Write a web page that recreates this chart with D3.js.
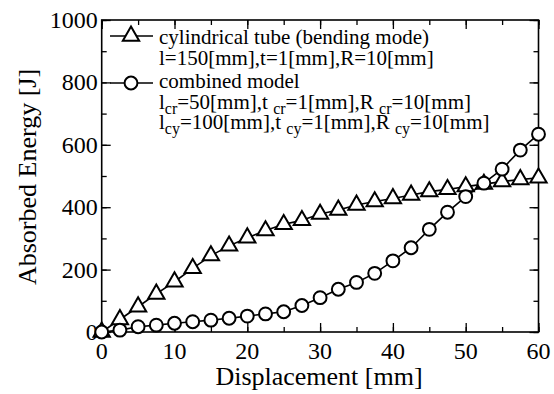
<!DOCTYPE html>
<html>
<head>
<meta charset="utf-8">
<script src="https://cdn.jsdelivr.net/npm/d3@7"></script>
<style>
  body { margin: 0; background: #fff; }
</style>
</head>
<body>
<div id="plot"></div>
<script>
// displacement [mm]
var disp = [0, 2.5, 5, 7.5, 10, 12.5, 15, 17.5, 20, 22.5, 25, 27.5, 30,
            32.5, 35, 37.5, 40, 42.5, 45, 47.5, 50, 52.5, 55, 57.5, 60];
// cylindrical tube (bending mode)
var tubeEnergy = [0, 40, 81, 122, 161, 204, 245, 276, 302, 325, 345, 358, 378,
                  391, 407, 418, 428, 439, 450, 457, 466, 474, 482, 489, 494];
// combined model
var combEnergy = [0, 6, 17, 22, 28, 33, 38, 44, 51, 58, 65, 85, 110,
                  137, 159, 188, 228, 270, 329, 384, 434, 477, 522, 583, 634];

var xTicks = [0, 10, 20, 30, 40, 50, 60];
var yTicks = [0, 200, 400, 600, 800, 1000];

var FONT = "Liberation Serif";
var W = 554, H = 394;
var margin = {top: 20, right: 15.5, bottom: 62, left: 101.7};
var width = W - margin.left - margin.right,
    height = H - margin.top - margin.bottom;

var svg = d3.select("#plot").append("svg")
    .attr("width", W).attr("height", H);
var g = svg.append("g")
    .attr("transform", "translate(" + margin.left + "," + margin.top + ")");

var x = d3.scaleLinear().domain([0, 60]).range([0, width]);
var y = d3.scaleLinear().domain([0, 1000]).range([height, 0]);

// inward ticks on all four sides
function ticks(axisFn, scale, vals, size) {
  return axisFn(scale).tickValues(vals).tickSize(-size).tickFormat("");
}
var xMinor = d3.range(0, 61, 5), yMinor = d3.range(0, 1001, 100);
g.append("g").attr("transform", "translate(0," + height + ")").call(ticks(d3.axisBottom, x, xMinor, 5));
g.append("g").attr("transform", "translate(0," + height + ")").call(ticks(d3.axisBottom, x, xTicks, 9));
g.append("g").call(ticks(d3.axisTop, x, xMinor, 5));
g.append("g").call(ticks(d3.axisTop, x, xTicks, 9));
g.append("g").call(ticks(d3.axisLeft, y, yMinor, 5));
g.append("g").call(ticks(d3.axisLeft, y, yTicks, 9));
g.append("g").attr("transform", "translate(" + width + ",0)").call(ticks(d3.axisRight, y, yMinor, 5));
g.append("g").attr("transform", "translate(" + width + ",0)").call(ticks(d3.axisRight, y, yTicks, 9));
g.selectAll(".domain").remove();
g.selectAll(".tick text").remove();
g.selectAll(".tick line").attr("stroke", "#000").attr("stroke-width", 1.3);

// tick labels
g.selectAll(".xl").data(xTicks).enter().append("text")
    .attr("x", d => x(d)).attr("y", height + 27)
    .attr("text-anchor", "middle")
    .style("font-family", FONT).style("font-size", "24px").text(d => d);
g.selectAll(".yl").data(yTicks).enter().append("text")
    .attr("x", -4).attr("y", d => y(d) + 8)
    .attr("text-anchor", "end")
    .style("font-family", FONT).style("font-size", "24px").text(d => d);

// frame
g.append("rect").attr("width", width).attr("height", height)
    .attr("fill", "none").attr("stroke", "#000").attr("stroke-width", 1.6);

// axis titles
svg.append("text").attr("x", 319).attr("y", 385)
    .attr("text-anchor", "middle")
    .style("font-family", FONT).style("font-size", "26px").text("Displacement [mm]");
svg.append("text").attr("transform", "translate(36,177) rotate(-90)")
    .attr("text-anchor", "middle")
    .style("font-family", FONT).style("font-size", "26px").text("Absorbed Energy [J]");

var line = d3.line().x((d, i) => x(disp[i])).y(d => y(d));
var tri = d3.symbol().type(d3.symbolTriangle).size(115);
var circ = d3.symbol().type(d3.symbolCircle).size(130);

function series(vals, sym) {
  g.append("path").datum(vals).attr("d", line)
      .attr("fill", "none").attr("stroke", "#000").attr("stroke-width", 1.6);
  g.selectAll(null).data(vals).enter().append("path")
      .attr("d", sym)
      .attr("transform", (d, i) => "translate(" + x(disp[i]) + "," + y(d) + ")")
      .attr("fill", "#fff").attr("stroke", "#000").attr("stroke-width", 2);
}
series(tubeEnergy, tri);
series(combEnergy, circ);

// legend
var lg = svg.append("g");
function legendItem(yy, sym) {
  lg.append("line").attr("x1", 110).attr("x2", 153).attr("y1", yy).attr("y2", yy)
      .attr("stroke", "#000").attr("stroke-width", 1.6);
  lg.append("path").attr("d", sym).attr("transform", "translate(131," + yy + ")")
      .attr("fill", "#fff").attr("stroke", "#000").attr("stroke-width", 2);
}
legendItem(36, tri);
legendItem(83, circ);

function legendText(yy, parts) {
  var t = lg.append("text").attr("x", 159).attr("y", yy)
      .style("font-family", FONT).style("font-size", "21px");
  var shift = 0;
  parts.forEach(function (p) {
    if (typeof p === "string") {
      t.append("tspan").attr("dy", -shift).text(p);
      shift = 0;
    } else {
      t.append("tspan").attr("dy", 5).style("font-size", "16px").text(p.sub);
      shift = 5;
    }
  });
}
legendText(44, ["cylindrical tube (bending mode)"]);
legendText(65, ["l=150[mm],t=1[mm],R=10[mm]"]);
legendText(88, ["combined model"]);
legendText(109, ["l", {sub: "cr"}, "=50[mm],t ", {sub: "cr"}, "=1[mm],R ", {sub: "cr"}, "=10[mm]"]);
legendText(129, ["l", {sub: "cy"}, "=100[mm],t ", {sub: "cy"}, "=1[mm],R ", {sub: "cy"}, "=10[mm]"]);
</script>
</body>
</html>
